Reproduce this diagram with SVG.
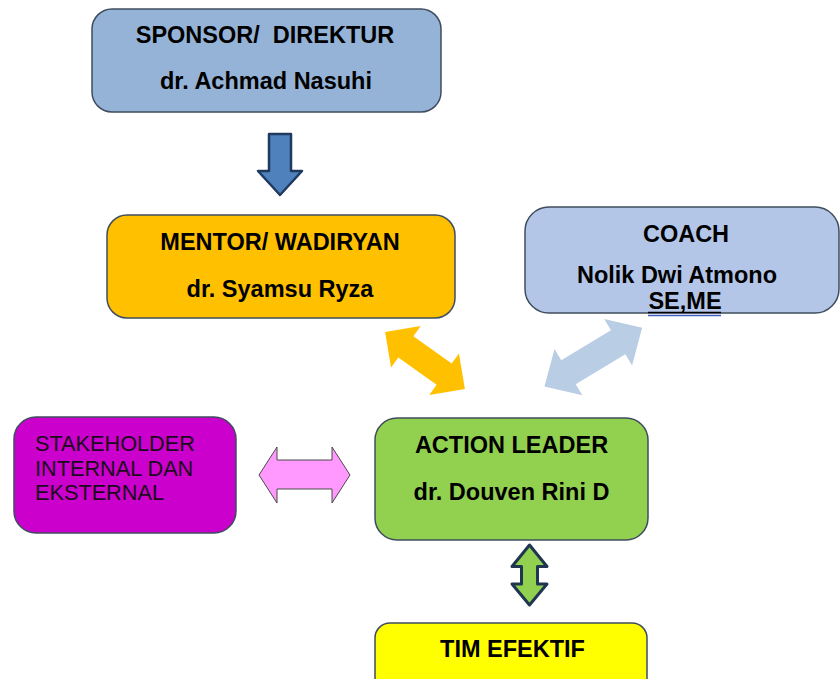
<svg xmlns="http://www.w3.org/2000/svg" width="840" height="679" viewBox="0 0 840 679">
  <style>
    .box { stroke: #3f4d5f; stroke-width: 1.5; }
    .t { font-family: "Liberation Sans", Arial, sans-serif; font-weight: bold; font-size: 23.5px; fill: #000; text-anchor: middle; white-space: pre; }
    .r { font-family: "Liberation Sans", Arial, sans-serif; font-size: 21.7px; fill: #1a0a1a; }
  </style>
  <rect width="840" height="679" fill="#ffffff"/>

  <g id="sponsor">
    <rect class="box" x="92" y="9" width="349" height="103" rx="20" fill="#95B3D7"/>
    <text class="t" x="265" y="43" xml:space="preserve">SPONSOR/  DIREKTUR</text>
    <text class="t" x="266" y="89">dr. Achmad Nasuhi</text>
  </g>

  <g id="mentor">
    <rect class="box" x="107" y="215" width="348" height="103" rx="20" fill="#FFC000"/>
    <text class="t" x="280" y="250">MENTOR/ WADIRYAN</text>
    <text class="t" x="280" y="297">dr. Syamsu Ryza</text>
  </g>

  <g id="coach">
    <rect class="box" x="525" y="207" width="314" height="106" rx="24" fill="#B4C6E7"/>
    <text class="t" x="686" y="242">COACH</text>
    <text class="t" x="677" y="283">Nolik Dwi Atmono</text>
    <text class="t" x="685" y="309">SE,ME</text>
    <line x1="648" y1="312.5" x2="721" y2="312.5" stroke="#000" stroke-width="1.5"/>
    <line x1="648" y1="315.5" x2="721" y2="315.5" stroke="#3a5fc0" stroke-width="1.6"/>
  </g>

  <g id="stakeholder">
    <rect class="box" x="14" y="417" width="222" height="116" rx="22" fill="#CC00CC"/>
    <text class="r" x="35" y="451">STAKEHOLDER</text>
    <text class="r" x="35" y="476">INTERNAL DAN</text>
    <text class="r" x="35" y="500">EKSTERNAL</text>
  </g>

  <g id="action-leader">
    <rect class="box" x="375" y="418" width="273" height="122" rx="22" fill="#92D050"/>
    <text class="t" x="511.5" y="453">ACTION LEADER</text>
    <text class="t" x="511.5" y="500">dr. Douven Rini D</text>
  </g>

  <g id="tim-efektif">
    <rect class="box" x="375" y="623" width="272" height="80" rx="15" fill="#FFFF00"/>
    <text class="t" x="512.5" y="657">TIM EFEKTIF</text>
  </g>

  <g id="connectors">
    <!-- sponsor to mentor -->
    <polygon points="269,134 291,134 291,171 302,171 280,195 258,171 269,171 269,134"
             fill="#4F81BD" stroke="#1f3a5f" stroke-width="2.5" stroke-linejoin="round"/>
    <!-- mentor <-> action leader -->
    <polygon transform="translate(425,360.5) rotate(35.5)"
             points="-49,0 -23.5,-25.5 -23.5,-13 23.5,-13 23.5,-25.5 49,0 23.5,25.5 23.5,13 -23.5,13 -23.5,25.5"
             fill="#FFC000"/>
    <!-- coach <-> action leader -->
    <polygon transform="translate(593.3,357.2) rotate(-31)"
             points="-57,0 -29,-27 -29,-14 29,-14 29,-27 57,0 29,27 29,14 -29,14 -29,27"
             fill="#B9CDE5"/>
    <!-- stakeholder <-> action leader -->
    <polygon points="259,475 277,447 277,460 332,460 332,447 350,475 332,503 332,489 277,489 277,503"
             fill="#FF99FF" stroke="#4a4a4a" stroke-width="1"/>
    <!-- action leader <-> tim efektif -->
    <polygon points="529.5,545 547,566.5 537.5,566.5 537.5,584 547,584 529.5,605 512,584 521.5,584 521.5,566.5 512,566.5"
             fill="#92D050" stroke="#1f3550" stroke-width="3" stroke-linejoin="round"/>
  </g>
</svg>
